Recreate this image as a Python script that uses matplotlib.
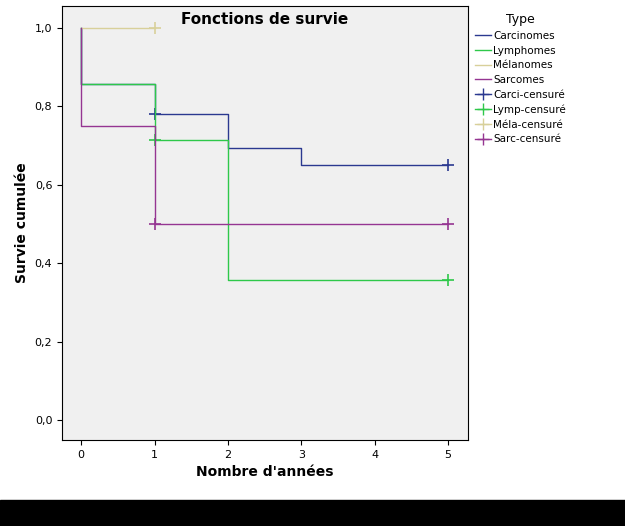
import matplotlib.pyplot as plt
from matplotlib.patches import Rectangle
from matplotlib.lines import Line2D

# step data: times and survival after each time
carci_t = [0, 0, 1, 2, 3, 5]
carci_s = [1.0, 0.857, 0.78, 0.694, 0.65, 0.65]
lymp_t = [0, 0, 1, 2, 5]
lymp_s = [1.0, 0.857, 0.714, 0.357, 0.357]
mela_t = [0, 1]
mela_s = [1.0, 1.0]
sarc_t = [0, 0, 1, 5]
sarc_s = [1.0, 0.75, 0.5, 0.5]

carci_cens = ([1, 5], [0.78, 0.65])
lymp_cens = ([1, 5], [0.714, 0.357])
mela_cens = ([1], [1.0])
sarc_cens = ([1, 5], [0.5, 0.5])

names = ["Carcinomes", "Lymphomes", "Mélanomes", "Sarcomes"]
cens_names = ["Carci-censuré", "Lymp-censuré", "Méla-censuré", "Sarc-censuré"]
colors = ["#2b3990", "#2ec84a", "#d8d09a", "#953592"]

fig = plt.figure(figsize=(6.25, 5.26), dpi=100)
fig.patch.set_facecolor("white")
fig.patches.append(Rectangle((0, 0), 1, 26 / 526, transform=fig.transFigure,
                             color="black", zorder=0))

ax = fig.add_axes([62 / 625, 1 - 440 / 526, 406 / 625, 434 / 526])
ax.set_facecolor("#f0f0f0")

series = [(carci_t, carci_s, carci_cens), (lymp_t, lymp_s, lymp_cens),
          (mela_t, mela_s, mela_cens), (sarc_t, sarc_s, sarc_cens)]
for (t, s, c), col in zip(series, colors):
    ax.step(t, s, where="post", color=col, lw=1)
    ax.plot(c[0], c[1], "+", color=col, ms=8, mew=1.2, ls="none")

ax.set_xlim(-0.26, 5.27)
ax.set_ylim(-0.051, 1.056)
ax.set_xticks([0, 1, 2, 3, 4, 5])
ax.set_yticks([0, 0.2, 0.4, 0.6, 0.8, 1.0])
ax.set_yticklabels(["0,0", "0,2", "0,4", "0,6", "0,8", "1,0"])
ax.tick_params(labelsize=8)
ax.set_xlabel("Nombre d'années", fontsize=10, fontweight="bold")
ax.set_ylabel("Survie cumulée", fontsize=10, fontweight="bold")
ax.text(0.5, 0.968, "Fonctions de survie", transform=ax.transAxes,
        ha="center", va="center", fontsize=11, fontweight="bold")

handles = [Line2D([], [], color=c, lw=1) for c in colors]
handles += [Line2D([], [], color=c, lw=1, marker="+", ms=8) for c in colors]
leg = fig.legend(handles, names + cens_names, title="Type", loc="upper left",
                 bbox_to_anchor=(466 / 625, 1 - 4 / 526), frameon=False,
                 fontsize=7.5, title_fontsize=9, handlelength=1.5,
                 handletextpad=0.2, labelspacing=0.45)

fig.savefig("out.png", dpi=100)
